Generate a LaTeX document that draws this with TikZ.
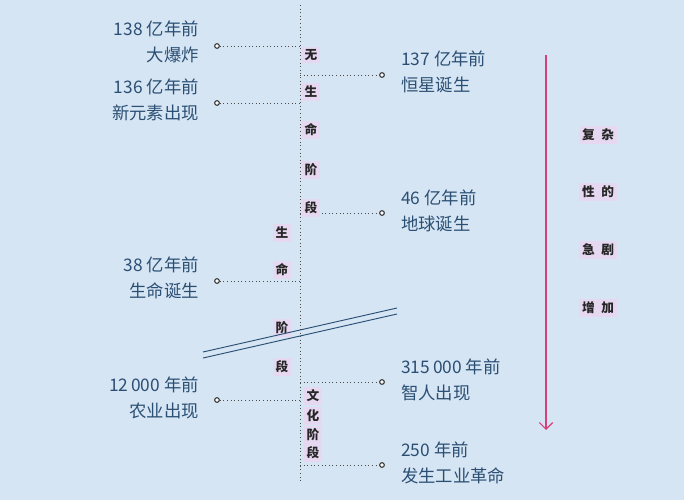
\documentclass[tikz,border=0pt]{standalone}
\usepackage{fontspec}
\setmainfont{Liberation Sans}
\newfontfamily\cjk{Noto Sans CJK SC}
\usetikzlibrary{arrows.meta}
\definecolor{bgBlue}{HTML}{D5E5F3}
\definecolor{txtBlue}{HTML}{2B4F74}
\definecolor{arrowPink}{HTML}{D8407A}
\definecolor{glowPink}{HTML}{E6D8F0}
\tikzset{
  event/.style={text=txtBlue, font=\cjk\fontsize{13}{19.5}\selectfont, align=left, inner sep=0pt},
  eventL/.style={event, align=right, anchor=north east},
  eventR/.style={event, anchor=north west},
  stage/.style={font=\cjk\fontsize{9.5}{11}\selectfont\bfseries, text=black!85, fill=glowPink, inner sep=2pt},
  dot/.style={circle, draw=black!80, line width=0.8pt, fill=white, inner sep=0pt, minimum size=3.5pt},
  tick/.style={dotted, line width=0.7pt, draw=black!70}
}
\begin{document}
\begin{tikzpicture}[x=0.75pt,y=-0.75pt]
\fill[bgBlue] (0,0) rectangle (684,500);
\useasboundingbox (0,0) rectangle (684,500);

% time axis
\coordinate (axisTop) at (300,5);
\coordinate (axisBot) at (300,482);
\draw[tick] (axisTop) -- (axisBot);

% left events
\node[dot] (bang) at (217,46) {};
\node[eventL] (bangLbl) at (199,21) {138 {\cjk 亿年前}\\{\cjk 大爆炸}};
\draw[tick] (bang) -- (300,46);
\node[dot] (elem) at (217,103) {};
\node[eventL] (elemLbl) at (199,79) {136 {\cjk 亿年前}\\{\cjk 新元素出现}};
\draw[tick] (elem) -- (300,103);
\node[dot] (life) at (217,281) {};
\node[eventL] (lifeLbl) at (199,257) {38 {\cjk 亿年前}\\{\cjk 生命诞生}};
\draw[tick] (life) -- (300,281);
\node[dot] (farm) at (217,400) {};
\node[eventL] (farmLbl) at (199,377) {12\,000 {\cjk 年前}\\{\cjk 农业出现}};
\draw[tick] (farm) -- (300,400);

% right events
\node[dot] (star) at (382,75) {};
\node[eventR] (starLbl) at (401,51) {137 {\cjk 亿年前}\\{\cjk 恒星诞生}};
\draw[tick] (300,75) -- (star);
\node[dot] (earth) at (382,213) {};
\node[eventR] (earthLbl) at (401,190) {46 {\cjk 亿年前}\\{\cjk 地球诞生}};
\draw[tick] (300,213) -- (earth);
\node[dot] (sapiens) at (382,382) {};
\node[eventR] (sapiensLbl) at (401,359) {315\,000 {\cjk 年前}\\{\cjk 智人出现}};
\draw[tick] (300,382) -- (sapiens);
\node[dot] (industry) at (382,465) {};
\node[eventR] (industryLbl) at (401,442) {250 {\cjk 年前}\\{\cjk 发生工业革命}};
\draw[tick] (300,465) -- (industry);

% stages
\foreach \ch/\y in {无/55, 生/92, 命/130, 阶/170, 段/208}
  \node[stage] at (311,\y) {\ch};
\foreach \ch/\y in {生/233, 命/270, 阶/328, 段/367}
  \node[stage] at (282,\y) {\ch};
\foreach \ch/\y in {文/396, 化/416, 阶/435, 段/453}
  \node[stage] at (313,\y) {\ch};

% break mark
\draw[txtBlue, line width=0.7pt] (203,352) -- (397,308);
\draw[txtBlue, line width=0.7pt] (203,358) -- (397,314);

% complexity arrow
\coordinate (arrTop) at (546,55);
\coordinate (arrBot) at (546,430);
\draw[arrowPink, line width=0.9pt, -{Straight Barb[length=5pt]}] (arrTop) -- (arrBot);
\foreach \txt/\y in {复\hspace{5pt}杂/135, 性\hspace{5pt}的/192, 急\hspace{5pt}剧/250, 增\hspace{5pt}加/308}
  \node[stage] at (598,\y) {\txt};
\end{tikzpicture}
\end{document}
